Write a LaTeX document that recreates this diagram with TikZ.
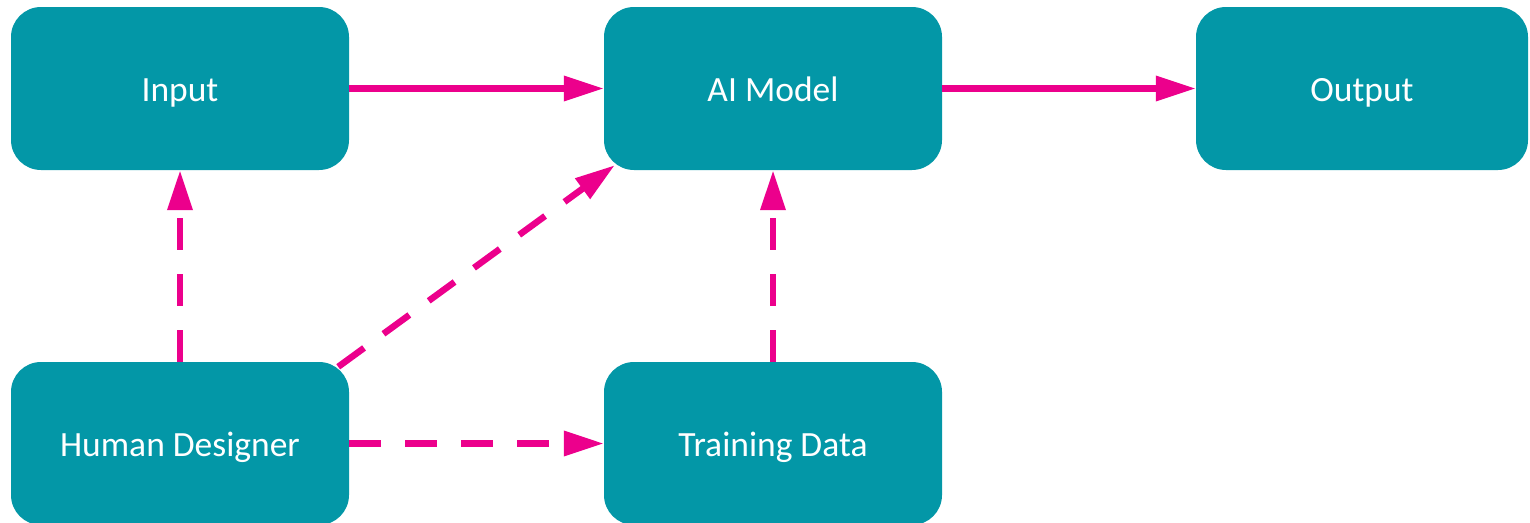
\documentclass[tikz,border=0pt]{standalone}
\usepackage{fontspec}
\setmainfont{Carlito}
\usetikzlibrary{arrows.meta,calc}
\definecolor{teal1}{HTML}{0397A7}
\definecolor{pink1}{HTML}{EC008C}
\begin{document}
\begin{tikzpicture}[x=1pt,y=-1pt,
  box/.style={fill=teal1, rounded corners=30pt, minimum width=338pt, minimum height=163pt,
    text=white, font=\fontsize{35.5}{40}\selectfont, inner sep=0pt,
    text height=30pt, text depth=4pt},
  solidarrow/.style={draw=pink1, line width=6.5pt, -{Triangle[length=40pt,width=24pt]}},
  dasharrow/.style={solidarrow, dash pattern=on 32pt off 24pt}]
\useasboundingbox (0,0) rectangle (1530,522);
\node[box] (in) at (180,88.5) {Input};
\node[box] (ai) at (773,88.5) {AI Model};
\node[box, minimum width=332pt] (out) at (1362,88.5) {Output};
\node[box] (hd) at (180,443.5) {Human Designer};
\node[box] (td) at (773,443.5) {Training Data};
\coordinate (d1) at ($(hd.north east)+(-11,5)$);
\coordinate (d2) at ($(ai.south west)+(11,-5)$);
\draw[solidarrow] (in.east) -- (ai.west);
\draw[solidarrow] (ai.east) -- (out.west);
\draw[dasharrow] (hd.north) -- (in.south);
\draw[dasharrow] (hd.east) -- (td.west);
\draw[dasharrow] (td.north) -- (ai.south);
\draw[dasharrow] (d1) -- (d2);
\end{tikzpicture}
\end{document}
